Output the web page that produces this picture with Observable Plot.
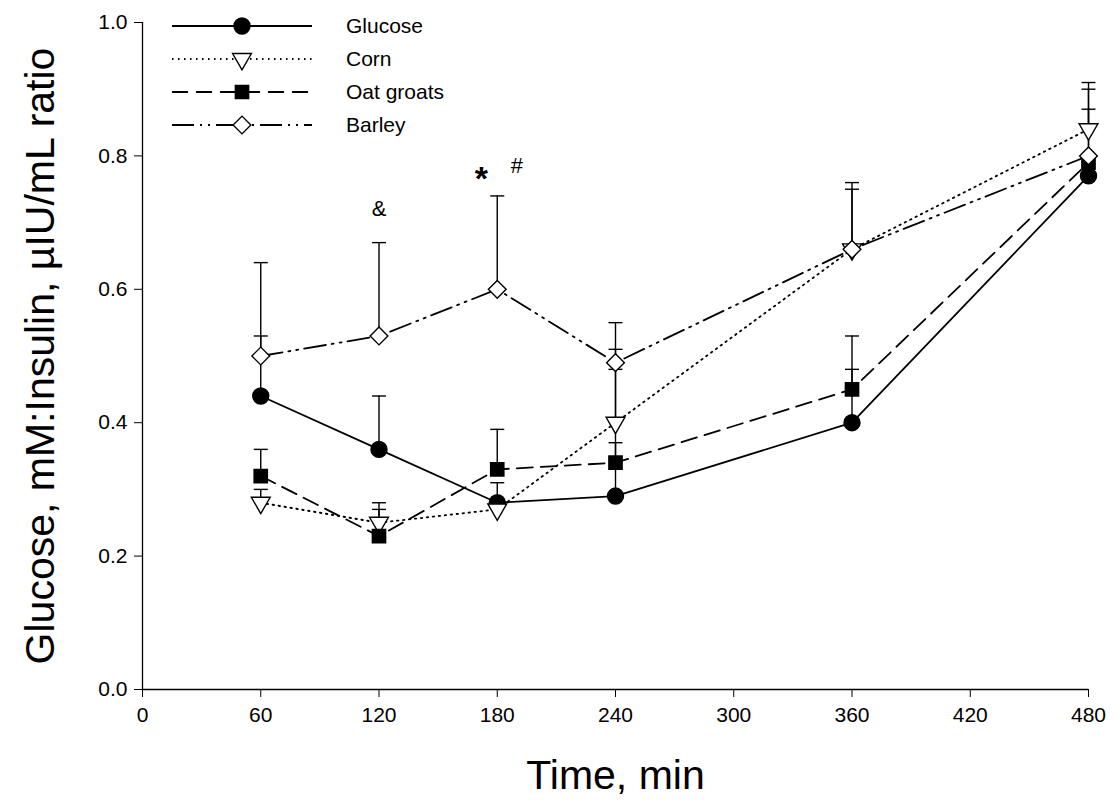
<!DOCTYPE html>
<html>
<head>
<meta charset="utf-8">
<script src="https://cdn.jsdelivr.net/npm/d3@7"></script>
<script src="https://cdn.jsdelivr.net/npm/@observablehq/plot@0.6"></script>
<style>
  html, body { margin: 0; padding: 0; background: #fff; }
  #wrap { position: relative; width: 1119px; height: 808px; font-family: "Liberation Sans", Arial, sans-serif; }
  #legend { position: absolute; left: 0; top: 0; }
</style>
</head>
<body>
<div id="wrap"></div>
<script>
// ---- data ----
const times = [60, 120, 180, 240, 360, 480];
const seriesNames = ["Glucose", "Corn", "Oat groats", "Barley"];
const glucose    = [0.44, 0.36, 0.28, 0.29, 0.40, 0.77];
const glucoseErr = [0.09, 0.08, 0.00, 0.19, 0.08, 0.00];
const corn       = [0.28, 0.25, 0.27, 0.40, 0.66, 0.84];
const cornErr    = [0.02, 0.03, 0.04, 0.11, 0.09, 0.07];
const oat        = [0.32, 0.23, 0.33, 0.34, 0.45, 0.79];
const oatErr     = [0.04, 0.04, 0.06, 0.03, 0.08, 0.08];
const barley     = [0.50, 0.53, 0.60, 0.49, 0.66, 0.80];
const barleyErr  = [0.14, 0.14, 0.14, 0.06, 0.10, 0.10];
const xTicks = [0, 60, 120, 180, 240, 300, 360, 420, 480];
const yTicks = [0, 0.2, 0.4, 0.6, 0.8, 1.0];
const annoLabels = ["&", "*", "#"];
const annoX = [120, 172, 190];
const annoY = [0.72, 0.765, 0.785];
const xTitle = "Time, min";
const yTitle = "Glucose, mM:Insulin, \u00b5IU/mL ratio";

// ---- styles ----
const styles = {
  "Glucose":    {symbol: "circle",   fill: "black", r: 8,   rotate: 0,   dash: null},
  "Corn":       {symbol: "triangle", fill: "white", r: 7,   rotate: 180, dash: "1.5,4.5"},
  "Oat groats": {symbol: "square",   fill: "black", r: 7.5, rotate: 0,   dash: "16,8"},
  "Barley":     {symbol: "diamond2", fill: "white", r: 8,   rotate: 0,   dash: "22,6,2,6,2,6"}
};
const values = [glucose, corn, oat, barley];
const errors = [glucoseErr, cornErr, oatErr, barleyErr];

const rows = [];
seriesNames.forEach((s, i) => times.forEach((t, j) => rows.push({series: s, t, v: values[i][j], e: errors[i][j]})));
const errRows = rows.filter(d => d.e > 0);
const annos = annoLabels.map((l, i) => ({label: l, x: annoX[i], y: annoY[i]}));

const capSymbol = {draw(ctx) { ctx.moveTo(-7, 0); ctx.lineTo(7, 0); }};

const marks = [
  Plot.ruleX([0], {stroke: "black", strokeWidth: 1.3}),
  Plot.ruleY([0], {stroke: "black", strokeWidth: 1.3}),
  Plot.axisX({ticks: xTicks, tickSize: 8, tickPadding: 10, fontSize: 21, label: null, tickFormat: d => String(d)}),
  Plot.axisY({ticks: yTicks, tickSize: 8, tickPadding: 7, fontSize: 21, label: null, tickFormat: d3.format(".1f")}),
  Plot.ruleX(errRows, {x: "t", y1: "v", y2: d => d.v + d.e, stroke: "black", strokeWidth: 1.4}),
  Plot.dot(errRows, {x: "t", y: d => d.v + d.e, symbol: capSymbol, r: 5, stroke: "black", fill: "none", strokeWidth: 1.4})
];
seriesNames.forEach(s => {
  const st = styles[s];
  const data = rows.filter(d => d.series === s);
  marks.push(Plot.line(data, {x: "t", y: "v", stroke: "black", strokeWidth: 1.8, strokeDasharray: st.dash}));
});
seriesNames.forEach(s => {
  const st = styles[s];
  const data = rows.filter(d => d.series === s);
  marks.push(Plot.dot(data, {x: "t", y: "v", symbol: st.symbol, r: st.r, fill: st.fill, stroke: "black", strokeWidth: 1.4, rotate: st.rotate}));
});
marks.push(
  Plot.text(annos.filter(d => d.label !== "*"), {x: "x", y: "y", text: "label", fontSize: 22, fill: "black"}),
  Plot.text(annos.filter(d => d.label === "*"), {x: "x", y: "y", text: "label", fontSize: 34, fontWeight: "bold", fill: "black"}),
  Plot.text([yTitle], {frameAnchor: "left", dx: -102, rotate: -90, textAnchor: "middle", lineAnchor: "middle", fontSize: 41, fill: "black"}),
  Plot.text([xTitle], {frameAnchor: "bottom", dy: 86, textAnchor: "middle", lineAnchor: "middle", fontSize: 41, fill: "black"})
);

const chart = Plot.plot({
  width: 1119,
  height: 808,
  marginLeft: 142,
  marginRight: 31,
  marginTop: 22,
  marginBottom: 119,
  style: {fontFamily: "'Liberation Sans', Arial, sans-serif", color: "black", background: "white", overflow: "visible"},
  x: {domain: [0, 480]},
  y: {domain: [0, 1]},
  marks
});
document.getElementById("wrap").appendChild(chart);

// ---- legend (built from series names & styles) ----
const symbolMap = {circle: d3.symbolCircle, triangle: d3.symbolTriangle, square: d3.symbolSquare, diamond2: d3.symbolDiamond2};
const lg = d3.select("#wrap").append("svg").attr("id", "legend").attr("width", 1119).attr("height", 160);
const rowTop = 26, rowGap = 33, lineX1 = 172, lineX2 = 312, markX = 242, textX = 346;
seriesNames.forEach((s, i) => {
  const st = styles[s];
  const y = rowTop + i * rowGap;
  lg.append("line").attr("x1", lineX1).attr("x2", lineX2).attr("y1", y).attr("y2", y)
    .attr("stroke", "black").attr("stroke-width", 1.8).attr("stroke-dasharray", st.dash);
  lg.append("path").attr("d", d3.symbol(symbolMap[st.symbol], Math.PI * st.r * st.r)())
    .attr("transform", `translate(${markX},${y}) rotate(${st.rotate})`)
    .attr("fill", st.fill).attr("stroke", "black").attr("stroke-width", 1.4);
  lg.append("text").attr("x", textX).attr("y", y).attr("dy", "0.35em")
    .attr("font-size", 21).attr("font-family", "'Liberation Sans', Arial, sans-serif").text(s);
});
</script>
</body>
</html>
